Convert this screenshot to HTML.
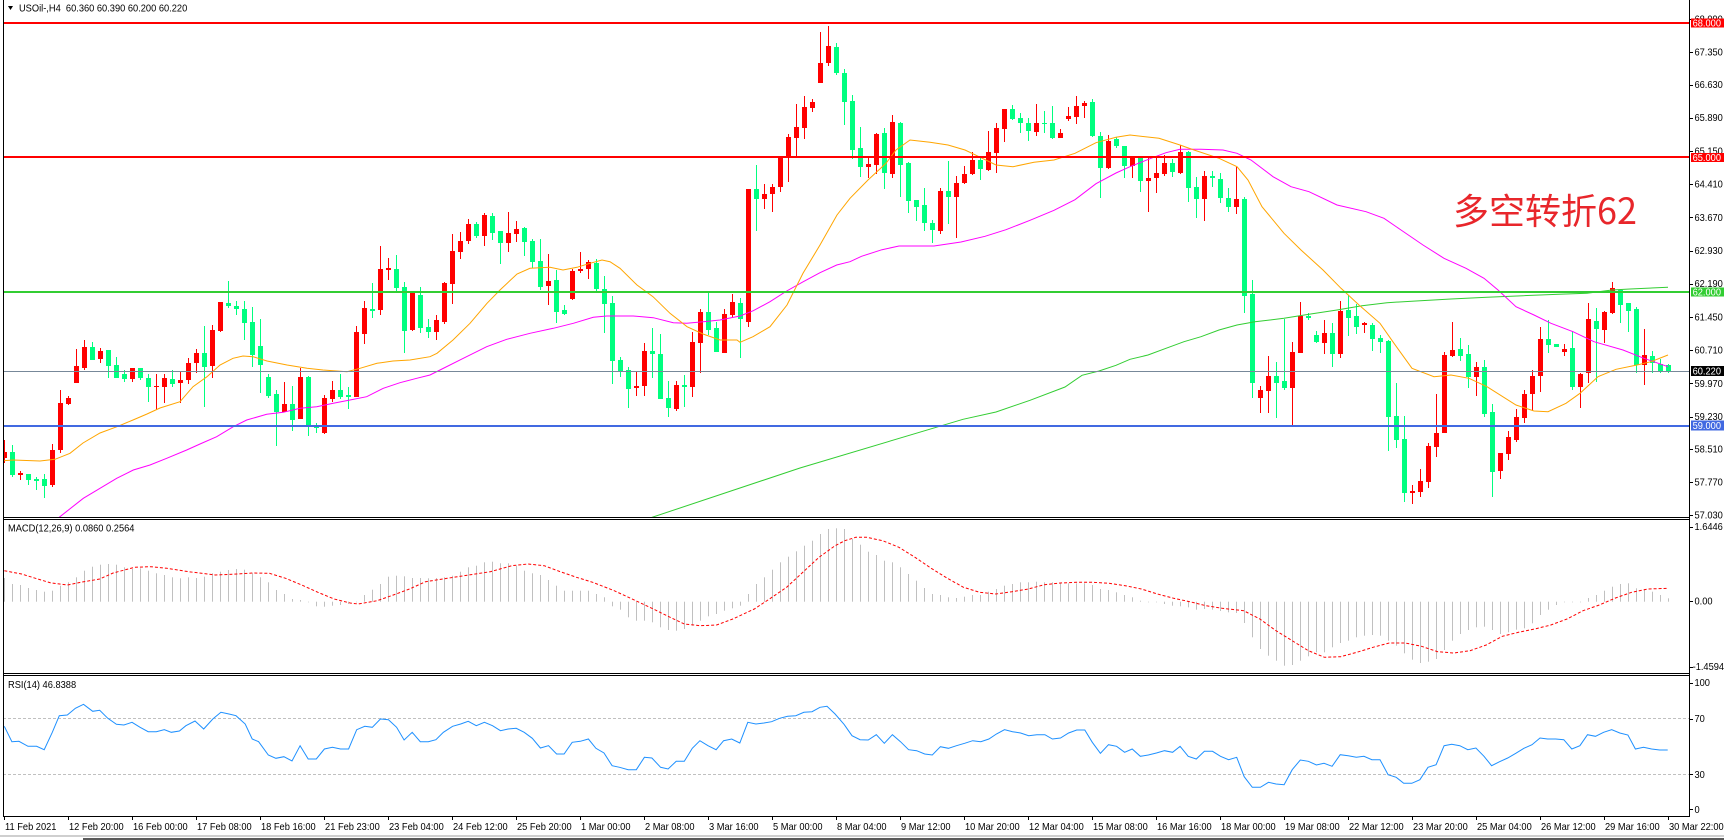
<!DOCTYPE html>
<html><head><meta charset="utf-8"><style>
html,body{margin:0;padding:0;background:#fff;width:1724px;height:840px;overflow:hidden}
svg{display:block}
.t{font-family:"Liberation Sans",sans-serif;font-size:10px;fill:#000;white-space:pre}
.w{fill:#fff}
</style></head><body>
<svg id="s" width="1724" height="840" viewBox="0 0 1724 840" xmlns="http://www.w3.org/2000/svg">
<defs>
<clipPath id="cm"><rect x="3" y="0" width="1686" height="517"/></clipPath>
<clipPath id="cd"><rect x="3" y="520" width="1686" height="153"/></clipPath>
<clipPath id="cr"><rect x="3" y="676" width="1686" height="140"/></clipPath>
</defs>
<rect x="0" y="0" width="1724" height="840" fill="#fff"/>
<g clip-path="url(#cm)">
 <g id="candles" shape-rendering="crispEdges"></g>
 <g id="mas"></g>
 <g shape-rendering="crispEdges">
  <rect x="3" y="22" width="1686" height="2" fill="#ff0000"/>
  <rect x="3" y="156" width="1686" height="2" fill="#ff0000"/>
  <rect x="3" y="291" width="1686" height="2" fill="#32cd32"/>
  <rect x="3" y="371" width="1686" height="1" fill="#778899"/>
  <rect x="3" y="425" width="1686" height="2" fill="#4169e1"/>
 </g>
 <text x="1453" y="224" font-family="Noto Sans CJK SC, WenQuanYi Zen Hei, sans-serif" font-size="36" fill="#e8262b">多空转折62</text>
</g>
<g clip-path="url(#cd)"><g id="macd"></g></g>
<g clip-path="url(#cr)">
 <line x1="3" y1="718.5" x2="1689" y2="718.5" stroke="#c0c0c0" stroke-dasharray="3 2"/>
 <line x1="3" y1="774.5" x2="1689" y2="774.5" stroke="#c0c0c0" stroke-dasharray="3 2"/>
 <g id="rsi"></g>
</g>
<!-- frames -->
<g shape-rendering="crispEdges" fill="#000">
 <rect x="3" y="0" width="1" height="817"/>
 <rect x="1689" y="0" width="1" height="817"/>
 <rect x="3" y="517" width="1687" height="1"/>
 <rect x="3" y="519" width="1687" height="1"/>
 <rect x="3" y="673" width="1687" height="1"/>
 <rect x="3" y="675" width="1687" height="1"/>
 <rect x="3" y="816" width="1687" height="1"/>
 <rect x="0" y="835" width="1724" height="2" fill="#cfcfcf"/>
 <rect x="83" y="838" width="1641" height="2" fill="#5a5a5a"/>
</g>
<g id="ticks" shape-rendering="crispEdges" stroke="#000" stroke-width="1"></g>
<!-- header -->
<polygon points="8,6 13,6 10.5,10" fill="#000"/>
<g transform="scale(0.93 1)">
<text class="t" x="20.4" y="11.5">USOil-,H4  60.360 60.390 60.200 60.220</text>
<text class="t" x="8.6" y="531.5">MACD(12,26,9) 0.0860 0.2564</text>
<text class="t" x="8.6" y="688">RSI(14) 46.8388</text>
</g>
<!-- right axis labels -->
<g transform="scale(0.93 1)">
<text class="t" x="1822" y="22.5">68.090</text>
<text class="t" x="1822" y="55.7">67.350</text>
<text class="t" x="1822" y="88">66.630</text>
<text class="t" x="1822" y="121.2">65.890</text>
<text class="t" x="1822" y="154.4">65.150</text>
<text class="t" x="1822" y="187.6">64.410</text>
<text class="t" x="1822" y="220.8">63.670</text>
<text class="t" x="1822" y="254">62.930</text>
<text class="t" x="1822" y="287.2">62.190</text>
<text class="t" x="1822" y="320.4">61.450</text>
<text class="t" x="1822" y="353.6">60.710</text>
<text class="t" x="1822" y="386.8">59.970</text>
<text class="t" x="1822" y="420">59.230</text>
<text class="t" x="1822" y="452.3">58.510</text>
<text class="t" x="1822" y="485.5">57.770</text>
<text class="t" x="1822" y="518.7">57.030</text>
<text class="t" x="1822" y="530.2">1.6446</text>
<text class="t" x="1822" y="604.5">0.00</text>
<text class="t" x="1820" y="670.2">-1.4594</text>
<text class="t" x="1822" y="686.2">100</text>
<text class="t" x="1822" y="722.2">70</text>
<text class="t" x="1822" y="777.8">30</text>
<text class="t" x="1822" y="812.8">0</text>
</g>
<!-- price boxes -->
<g shape-rendering="crispEdges">
<rect x="1691" y="18.5" width="33" height="9" fill="#ff0000"/>
<rect x="1691" y="152.8" width="33" height="9.3" fill="#ff0000"/>
<rect x="1691" y="287.3" width="33" height="9.4" fill="#32cd32"/>
<rect x="1691" y="366" width="33" height="10" fill="#000"/>
<rect x="1691" y="420.7" width="33" height="10" fill="#4169e1"/>
</g>
<g transform="scale(0.93 1)">
<text class="t w" x="1820" y="26.5">68.000</text>
<text class="t w" x="1820" y="160.8">65.000</text>
<text class="t w" x="1820" y="295.5">62.000</text>
<text class="t w" x="1820" y="374.5">60.220</text>
<text class="t w" x="1820" y="429.2">59.000</text>
</g>
<!-- time axis -->
<g transform="scale(0.93 1)">
<text class="t" x="5.4" y="830">11 Feb 2021</text>
<text class="t" x="74.2" y="830">12 Feb 20:00</text>
<text class="t" x="143" y="830">16 Feb 00:00</text>
<text class="t" x="211.8" y="830">17 Feb 08:00</text>
<text class="t" x="280.6" y="830">18 Feb 16:00</text>
<text class="t" x="349.5" y="830">21 Feb 23:00</text>
<text class="t" x="418.3" y="830">23 Feb 04:00</text>
<text class="t" x="487.1" y="830">24 Feb 12:00</text>
<text class="t" x="555.9" y="830">25 Feb 20:00</text>
<text class="t" x="624.7" y="830">1 Mar 00:00</text>
<text class="t" x="693.5" y="830">2 Mar 08:00</text>
<text class="t" x="762.4" y="830">3 Mar 16:00</text>
<text class="t" x="831.2" y="830">5 Mar 00:00</text>
<text class="t" x="900" y="830">8 Mar 04:00</text>
<text class="t" x="968.8" y="830">9 Mar 12:00</text>
<text class="t" x="1037.6" y="830">10 Mar 20:00</text>
<text class="t" x="1106.5" y="830">12 Mar 04:00</text>
<text class="t" x="1175.3" y="830">15 Mar 08:00</text>
<text class="t" x="1244.1" y="830">16 Mar 16:00</text>
<text class="t" x="1312.9" y="830">18 Mar 00:00</text>
<text class="t" x="1381.7" y="830">19 Mar 08:00</text>
<text class="t" x="1450.5" y="830">22 Mar 12:00</text>
<text class="t" x="1519.4" y="830">23 Mar 20:00</text>
<text class="t" x="1588.2" y="830">25 Mar 04:00</text>
<text class="t" x="1657" y="830">26 Mar 12:00</text>
<text class="t" x="1725.8" y="830">29 Mar 16:00</text>
<text class="t" x="1794.6" y="830">30 Mar 22:00</text>
</g>
</svg>
<script>
(function(){
var NS="http://www.w3.org/2000/svg";
function el(p,t,a){var e=document.createElementNS(NS,t);for(var k in a)e.setAttribute(k,a[k]);p.appendChild(e);return e;}
var D=[
['r',451.7,458.3,440,463],['g',451.7,475,445,476.7],['r',472.7,475,470.7,480],['g',474,480,474,485],['g',478.7,480.7,476.7,490],
['g',478.7,486,474,498],['r',450,485,444,486.7],['r',403.3,450,390,453.3],['r',398.3,404,396,405],['r',366,382.7,348.7,382.7],
['r',347.3,368.3,340,370],['g',347.3,360,342,360],['r',351,359,347.7,363.3],['g',350,366,350,377.7],['g',365,377.7,357.3,377.7],
['g',374,378.7,370,381.7],['r',368.3,378.7,368.3,381.7],['g',367.7,377.7,367.7,380],['g',377.7,386.7,374.3,401.7],['r',385.7,387.3,374.3,410],
['r',377.7,386.7,374.3,402.7],['g',379,384,370,386.7],['r',380,382.7,371.7,403.3],['r',363.3,380,358.3,384],['r',353.3,362.7,349,373.3],
['g',353.3,366.7,326,407.3],['r',330,366,324.7,378.3],['r',302.3,331,302.3,332.3],['g',302.7,305.7,281,307.7],['g',306,309,301,315],
['g',309,322.7,301,340],['g',321.7,355.3,306.7,366.7],['g',346,365,319,393.3],['g',376.7,396,374,398.3],['g',394,412.3,390,445.7],
['r',404,412.3,382,412.3],['g',404,420,386,431],['r',376.7,419,368.3,419],['g',376.7,426.7,376,435.7],['g',425.7,427.7,423.3,433.3],
['r',397.7,433,395,434],['r',390,399,381,401.7],['g',390,396.7,374,399],['g',395,396.7,387.3,409],['r',331.7,396.7,326,396.7],
['r',307.7,334,301,344],['g',309,311,282.7,317.7],['r',269,310,246,315],['r',268,270,258.3,280],['g',269,287.7,255,293.3],
['g',286.7,330.7,281.7,352.7],['r',293.3,330,292.7,331.3],['g',295,327.7,287.3,333.3],['g',326.7,331.7,319,337.7],['r',320,331.7,315,340],
['r',282.7,321.7,281.7,324],['r',250.7,284,234,304],['r',241,251.7,231.7,259],['r',224,241,219,244],['g',224,236,221.7,237.7],
['r',215,236,213.3,245.7],['g',216,232.7,212.7,240],['g',231,242.7,231,264],['r',232.7,243.3,212,251.7],['r',229,234,221,241.7],
['g',227.7,241.7,226.7,256],['g',241,261.7,239.3,268.3],['g',261,286.7,239,290],['r',281,286,254,305],['g',280,311.7,270,322.7],
['g',310,314,305,315],['r',270.7,299.3,269.3,300],['r',269,270.7,251.7,272.7],['r',262.3,269.3,260,279],['g',262.7,289.3,259.3,290.7],
['g',289,304,276,333.3],['g',303.3,360.7,296,384.3],['g',360,371,356.7,376.7],['g',370,388.7,366.7,407.7],['r',385.7,387.7,372.3,396],
['r',351,385.7,342.7,396],['g',351,354.3,328.3,377.7],['g',354,399.3,334.3,399.3],['g',397.7,408.3,380.7,416.7],['r',385,409,380.7,411],
['g',385,386.7,375,406.7],['r',341.7,386.7,332.3,396.7],['r',312.3,343.3,309,372.7],['g',312.3,330,292.7,335],['g',328.3,351.7,321.7,351.7],
['r',314.3,352.7,309.3,352.7],['r',302.3,315,294,316.7],['g',303.3,319.3,297.7,358.3],['r',189,321.7,189,326.7],['g',189,199,165,230.7],
['r',194,199,184.3,209],['r',186.7,194,184,212.3],['r',157.7,186.7,157.7,192.3],['r',136.7,157.7,134.3,181.7],['r',126.7,138.3,104,157.3],
['r',107.3,127.7,96,139],['r',101.7,107.7,99,111.7],['r',62.7,82.7,32.3,82.7],['r',46,62.7,26,65.7],['g',47.3,73.3,43.3,75],
['g',72.7,101.7,69.3,125],['g',101,150,95,159.3],['g',147.7,166.7,127.3,177.3],['r',164,166.7,156,178.3],['r',134,165,133.3,174],
['g',132.7,172.7,128.3,189],['r',121.7,174,115,177.7],['g',122.7,165,121.7,196.7],['g',163.3,200.7,161.7,213.3],['g',200,206.7,200,221],
['g',205,223.3,188.3,231],['g',222.7,230,220,242.7],['r',191,230.7,188.3,234],['g',191,196.7,161,224],['r',183.3,196.7,176,237.7],
['r',174,183.3,165.7,184],['r',160,174,152.3,175],['g',160,169,156.7,180],['r',152.3,170,131,171],['r',128.3,152.7,123.3,172.7],
['r',109,129,109,141.7],['g',109.3,119,105,120],['g',117.7,122.7,113.3,132.7],['g',122.7,131,117.7,140.7],['r',122.7,131.7,104,136],
['g',123.3,124.3,111,132.7],['g',123.3,137.7,106,139.3],['r',133.3,137.7,129,137.7],['r',116,119,107.3,120.7],['r',106,116.7,96,124],
['r',103.3,106,100.7,117.7],['g',101.7,136,99,137.3],['g',136,167.7,131.7,197.7],['r',141,167.7,135,169.3],['g',139,146,136.7,148.3],
['g',146,166,146,178.3],['r',158.3,166,155.7,177.7],['g',158.3,181,156,191.7],['r',178.3,180.7,156.7,212.3],['r',173.3,178.3,156.7,193.3],
['r',163.3,174,155,175.7],['g',163.3,171.7,159.3,176.7],['r',152.3,172.7,145,174.3],['g',152.3,187.7,151,202.3],['g',187.3,199,177.3,217.7],
['r',176,199,170.7,221],['g',176,178.3,171,187.3],['g',179.3,198.3,172.7,203.3],['g',197.7,206.7,187.7,211.7],['r',199,206.7,166.7,214.3],
['g',199,295.7,196.7,313.3],['g',294,382.7,280,398.3],['r',390,397.7,386,413.3],['r',375.7,391,356,412.7],['g',376,382.7,361.7,418.3],
['g',380.7,387.7,319.3,390],['r',352.3,387.7,341.7,425],['r',315.7,353.3,301.7,353.3],['g',315.7,317.7,312.7,320],['g',335,342.3,330.7,343.3],
['r',333.3,342.7,320,354.3],['g',333.3,354.3,322.7,366.7],['r',310.7,354,300.7,357.7],['g',310,317.7,295,336],['g',316,326.7,304,334],
['r',323.3,325,321.7,332.7],['g',325,339,323.3,351],['g',338.3,341.7,335,352.7],['g',340.7,416.7,340,450.7],['g',415.7,440,383.3,448.3],
['g',439,493.3,415.7,501.7],['r',491,493.3,485,504.3],['r',481,491.7,469,496.7],['r',446,481.7,443.3,487.7],['r',433.3,446.7,394.3,456.7],
['r',355,432.7,351.7,432.7],['r',350,355.7,322.3,356.7],['g',349.3,355.7,338.3,360.7],['g',354.3,376.7,345,387.7],['r',367.3,377.3,362.3,395.7],
['g',367.3,414,360,416.7],['g',412.3,471.7,404.3,496.7],['r',453.3,470.7,452.7,479],['r',437.3,454,431,460],['r',417.3,440,409,441.7],
['r',394.3,418.3,390,422.7],['r',376,394.3,370,410.7],['r',339.3,376,327.3,391.7],['g',339.3,345,320,352.7],['g',344.3,346.7,344,347],
['r',349,351.7,344.3,355.7],['g',348.3,386.7,330.7,390],['r',374,387.3,372.7,408.3],['r',319.3,373.3,303.3,383.3],['g',321,329.3,307.7,381.7],
['r',311.7,330,310.7,343.3],['r',288.3,312.7,282.3,314],['g',290,305,290,322.7],['g',303.3,310.7,302.7,331.7],['g',309.3,365,306.7,373.3],
['r',355,365,329,385],['g',356,363.3,351,373.3],['g',364.3,370.7,359.3,372.7],['g',365,371.7,364,372.7]
];
var gC=document.getElementById('candles');
for(var k=0;k<D.length;k++){var d=D[k],x=4+8*k,col=d[0]=='r'?'#ff0000':'#00ff7f';
 var wt=Math.round(d[3]),wb=Math.round(d[4]);el(gC,'rect',{x:x,y:wt,width:1,height:Math.max(1,wb-wt),fill:col});
 var bt=Math.round(d[1]),bb=Math.round(d[2]);el(gC,'rect',{x:x-2,y:bt,width:5,height:Math.max(1,bb-bt),fill:col});}
function pl(p,pts,c,ex){var a={points:pts.map(function(q){return q[0].toFixed(1)+','+q[1].toFixed(1)}).join(' '),fill:'none',stroke:c,'stroke-width':1};for(var i in ex)a[i]=ex[i];el(p,'polyline',a);}
var gM=document.getElementById('mas');
var OR=[[3,460.7],[13,460],[40,461],[55,459.3],[70,453.3],[83,443],[100,433],[117,426.7],[133,420],[147,414],[160,408],[180,401.7],[193,386.7],[207,376.7],[220,365],[233,358.3],[243,356],[253,356.7],[267,361],[287,365],[307,368.3],[323,370],[347,371.7],[360,368.3],[377,363.3],[393,361],[410,360],[430,356.7],[437,353.3],[453,340],[470,323.3],[487,303.3],[500,290],[517,274],[530,268.3],[550,267.3],[563,270],[577,267.3],[590,263.3],[602,260],[610,261.7],[620,268.3],[637,285],[653,296.7],[670,313.3],[687,326.7],[703,334],[720,340],[737,340],[740,342.3],[753,336.7],[770,326.7],[787,305],[803,273.3],[820,245],[837,215],[850,198.3],[868,180],[886,163.3],[896,150],[910,140],[930,142.3],[948,145],[965,150],[979,156.7],[996,165],[1013,166.7],[1034,162.3],[1054,160],[1075,153.3],[1096,142.7],[1116,137.3],[1130,135],[1159,138.3],[1180,145],[1194,150],[1219,158.3],[1237,166.7],[1248,180],[1262,206.7],[1284,233.3],[1301,250],[1323,270],[1341,288.3],[1359,305],[1380,323.3],[1394,343.3],[1412,368.3],[1434,376.7],[1451,375],[1469,378.3],[1487,386.7],[1516,405],[1534,411],[1548,411.7],[1566,403.3],[1580,393.3],[1598,376.7],[1616,369.3],[1637,365],[1651,361.7],[1668,355]];
var MG=[[58.3,518],[83.3,498.3],[100,488.3],[116.7,478.3],[133.3,470],[150,465],[166.7,458.3],[186.7,450],[200,444],[216.7,436.7],[233.3,426.7],[246.7,420],[266.7,414.3],[283.3,412.3],[300,408.3],[316.7,406.7],[333.3,403.3],[350,400],[366.7,396.7],[383.3,388.3],[400,382.7],[416.7,378.3],[430,375],[440,370],[463.3,358.3],[486.7,346.7],[506.7,339.3],[530,333.3],[553.3,328.3],[573.3,323.3],[593.3,317.3],[606.7,316],[633.3,316],[653.3,317.7],[673.3,322.7],[686.7,323.3],[703.3,321.7],[720,320],[740,316],[753.3,310.7],[770,301.7],[786.7,291],[803.3,281.7],[820,272.7],[836.7,265],[850,261.7],[861.5,256.3],[882,249.7],[899,246],[934,246],[961,242],[985,236.3],[1006,229.7],[1030,220.3],[1054,210.3],[1075,199.7],[1096,183.7],[1116,173],[1130,166.7],[1151,158.3],[1166,152.7],[1180,149.3],[1201,149.3],[1223,150],[1237,153.3],[1251,160],[1273,176.7],[1291,186.7],[1309,191.7],[1337,205],[1366,211.7],[1384,218.3],[1401,230],[1423,245],[1444,258.3],[1466,268.3],[1484,278.3],[1498,290],[1516,306.7],[1534,315],[1551,323.3],[1573,331.7],[1594,341.7],[1623,350],[1644,358.3],[1668,366.7]];
var GR=[[650,518],[800,468],[963,419.3],[996,412],[1030,400.3],[1065,387],[1082,375.3],[1099,371],[1116,365.3],[1130,359.3],[1148,355],[1166,348.3],[1184,341.7],[1201,336.7],[1219,330],[1237,325],[1255,321.7],[1284,318.3],[1309,314.3],[1337,310],[1362,305.7],[1387,302.7],[1416,301],[1451,299],[1487,297.3],[1523,295.7],[1559,294.3],[1587,293.3],[1612,290],[1630,289],[1668,287.3]];
pl(gM,GR,'#32cd32');pl(gM,MG,'#ff00ff');pl(gM,OR,'#ffa500');
/* MACD */
var gD=document.getElementById('macd');
var HA=[177,195,198,207,213,218,215,200,190,175,155,143,137,135,137,145,150,148,155,163,168,175,178,175,177,173,163,158,153,150,152,163,175,190,213,225,240,243,248,262,263,260,258,255,250,228,212,195,173,170,172,177,177,178,177,175,170,158,145,140,130,128,133,133,140,155,163,168,183,200,215,215,215,215,225,235,262,272,295,305,305,310,325,333,335,330,320,305,292,285,275,268,260,225,195,175,152,130,113,97,80,65,45,30,28,30];
var HB=[60,77,98,108,125,130,145,165,185,207,225,228,235,237,233,228,228,218,210,200,195,190,190,188,190,190,193,193,193,193,198,210,213,220,228,235,245,248,250,255,260,262,265,272,270,272,276,280,282,312,355,390,410,425,440,438,425,412,400,400,385,372,365,355,350,348,350,365,380,403,422,432,428,420,393,365,345,333,325,323,333,345,340,332,328,313,288,272,258,250,250,250,237,228,215,203,195,193,208,210,218,228,238];
var H=HA.concat(HB),zero=601.7;
for(var i=0;i<H.length;i++){var v=519+H[i]/3,y0=Math.min(v,zero),h=Math.abs(v-zero);if(h<0.6)h=0.6;el(gD,'rect',{x:4+8*i,y:y0.toFixed(1),width:1,height:h.toFixed(1),fill:'#c0c0c0'});}
var SA=[[8,155],[40,165],[70,180],[95,192],[125,198],[150,190],[185,180],[210,162],[250,145],[280,143],[310,148],[350,158],[400,168],[440,165],[470,162],[500,163],[530,178],[560,198],[590,220],[620,240],[650,252],[665,255],[700,245],[730,228],[760,210],[790,188],[830,178],[870,168],[910,158],[950,140],[980,135],[1010,140],[1040,158],[1070,175],[1100,190],[1140,215],[1180,245],[1210,268],[1240,292],[1270,315],[1300,320],[1330,318],[1360,300],[1400,270],[1430,238],[1460,205],[1490,160],[1520,115],[1550,80],[1568,65]];
var SB=[[20,55],[40,55],[70,65],[100,85],[130,115],[160,148],[190,178],[220,205],[250,220],[280,225],[310,218],[340,210],[370,197],[400,192],[430,190],[460,190],[490,193],[520,200],[550,210],[580,225],[610,238],[640,248],[670,260],[700,268],[740,275],[770,300],[800,335],[830,365],[860,395],[890,415],[920,413],[950,400],[980,385],[1010,372],[1040,372],[1070,382],[1100,398],[1130,402],[1160,395],[1190,378],[1220,352],[1250,340],[1280,330],[1310,318],[1340,300],[1370,275],[1400,258],[1430,237],[1460,220],[1490,210],[1527,208]];
var S=SA.map(function(p){return [p[0]/1.856,519+p[1]/3]}).concat(SB.map(function(p){return [845+p[0]/1.856,519+p[1]/3]}));
pl(gD,S,'#ff0000',{'stroke-dasharray':'3 2'});
/* RSI */
var RA=[[8,622],[22,668],[35,667],[52,682],[68,682],[82,692],[97,640],[110,590],[125,588],[140,568],[155,556],[172,577],[185,574],[200,598],[216,616],[230,618],[245,610],[260,625],[275,638],[290,638],[305,632],[318,640],[333,636],[345,620],[362,606],[378,630],[395,600],[410,580],[425,585],[438,590],[455,615],[468,660],[480,668],[498,708],[512,718],[527,713],[542,726],[557,680],[572,720],[587,720],[602,690],[617,685],[632,690],[647,690],[662,632],[677,622],[691,625],[706,600],[721,602],[736,625],[750,663],[765,640],[780,668],[795,668],[809,662],[823,640],[840,622],[855,615],[869,607],[884,620],[899,610],[914,620],[929,635],[943,630],[958,628],[973,640],[988,658],[1003,687],[1018,680],[1033,705],[1047,705],[1062,670],[1077,667],[1092,660],[1106,688],[1121,702],[1136,740],[1150,745],[1166,752],[1181,752],[1196,715],[1210,717],[1226,745],[1240,750],[1255,727],[1270,727],[1285,688],[1299,665],[1314,680],[1329,692],[1343,665],[1358,660],[1373,672],[1388,610],[1403,615],[1418,612],[1432,608],[1447,598],[1462,592],[1477,590],[1492,580],[1507,578],[1522,565],[1535,562],[1550,585],[1566,615]];
var RB=[[0,620],[13,650],[28,662],[43,663],[58,647],[73,673],[88,647],[103,668],[118,692],[133,695],[148,705],[162,708],[177,683],[192,688],[207,680],[222,673],[237,665],[252,668],[267,660],[281,645],[296,632],[311,638],[326,642],[341,650],[356,647],[371,647],[385,660],[400,657],[415,642],[430,633],[445,633],[459,670],[474,703],[489,677],[504,682],[519,700],[533,690],[548,712],[563,708],[578,702],[593,695],[608,700],[622,682],[637,712],[652,720],[667,697],[682,697],[697,712],[712,722],[727,715],[741,773],[756,805],[771,805],[786,790],[800,795],[815,797],[830,752],[845,723],[860,727],[875,738],[889,733],[904,742],[919,707],[934,710],[949,715],[963,712],[978,722],[993,722],[1008,767],[1023,775],[1037,793],[1052,793],[1067,782],[1082,745],[1097,737],[1112,680],[1126,676],[1141,680],[1156,692],[1171,687],[1186,712],[1200,740],[1215,728],[1230,717],[1245,703],[1260,688],[1275,677],[1290,657],[1304,660],[1319,660],[1334,662],[1349,690],[1364,680],[1378,647],[1393,652],[1408,640],[1423,632],[1438,642],[1453,648],[1467,690],[1482,685],[1497,690],[1512,693],[1527,693]];
var R=RA.map(function(p){return [p[0]/1.856,519+p[1]/3]}).concat(RB.map(function(p){return [845+p[0]/1.856,519+p[1]/3]}));
pl(document.getElementById('rsi'),R,'#1e90ff');
/* ticks */
var gT=document.getElementById('ticks'),ty=[19,52.2,84.5,117.7,150.9,184.1,217.3,250.5,283.7,316.9,350.1,383.3,416.5,448.8,482,515.2,526.7,601,666.7,682.7,718.7,774.3,809.3];
ty.forEach(function(y){el(gT,'line',{x1:1690,y1:Math.round(y)+0.5,x2:1693,y2:Math.round(y)+0.5});});
for(var j=0;j<27;j++){var tx=4+64*j+0.5;el(gT,'line',{x1:tx,y1:817,x2:tx,y2:820});}
})();
</script>
</body></html>
